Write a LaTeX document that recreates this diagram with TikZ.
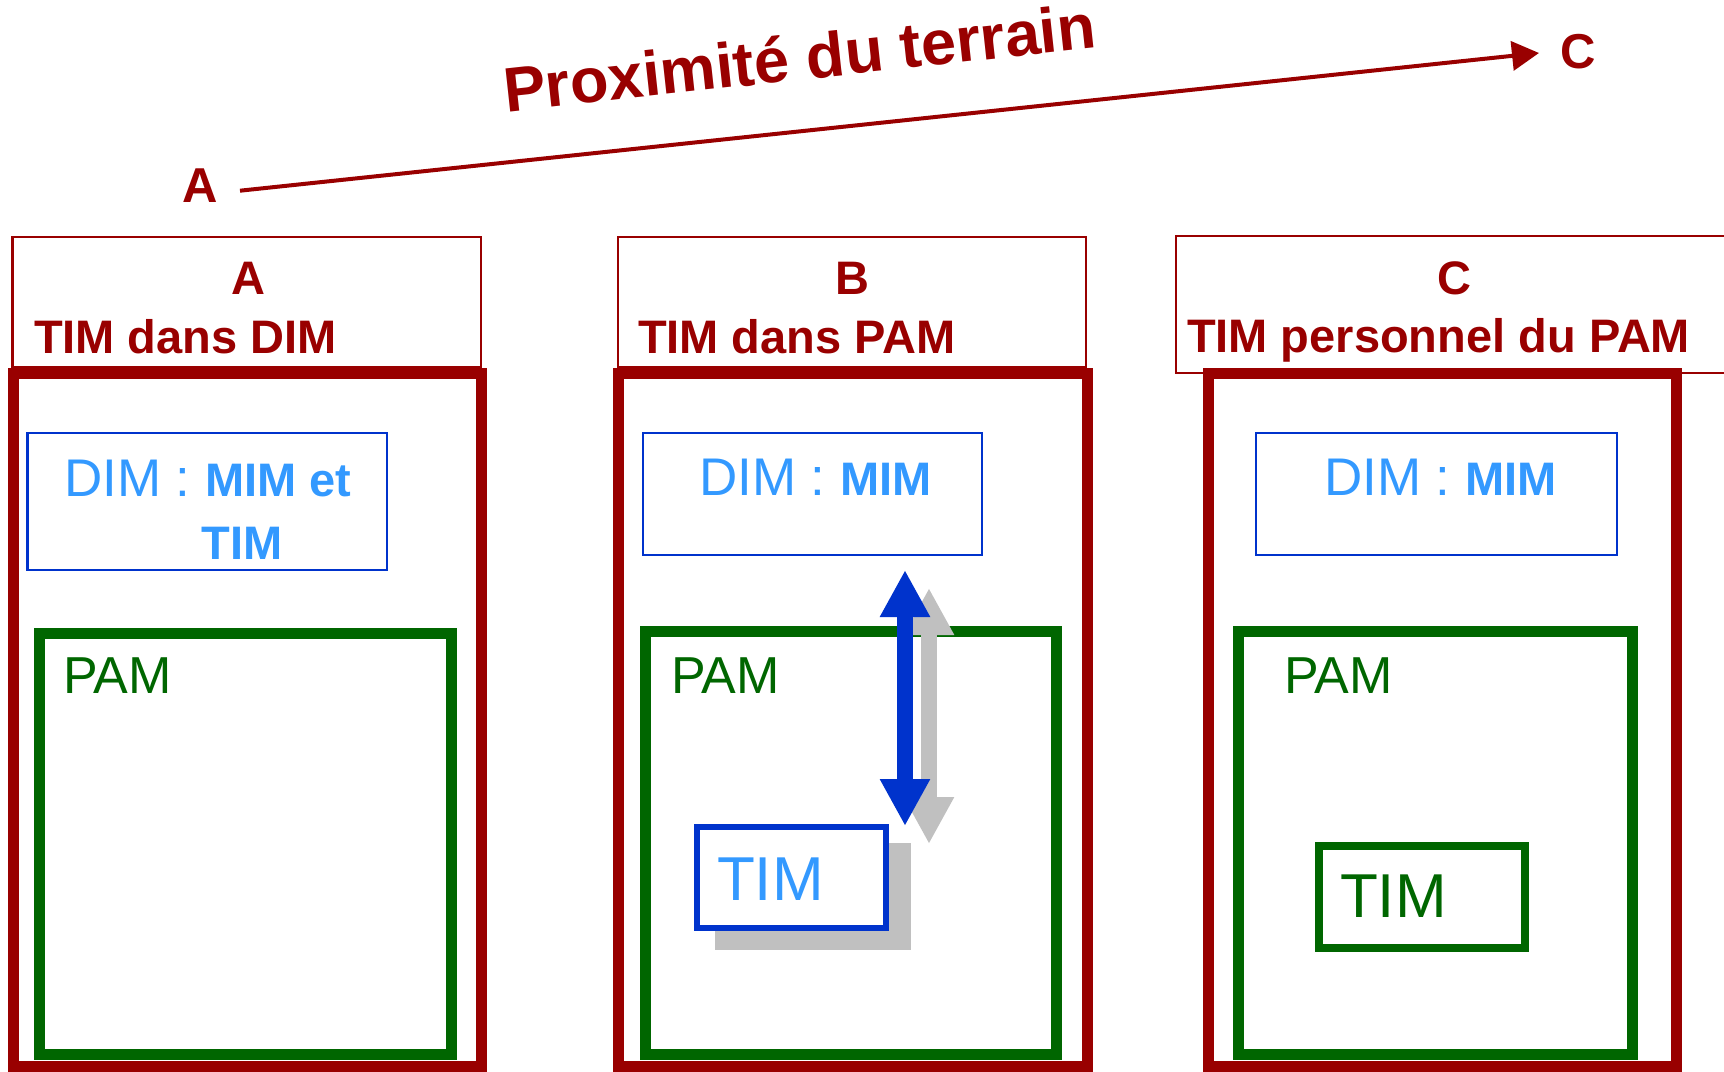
\documentclass[tikz,border=0pt]{standalone}
\usepackage{fontspec}
\setmainfont{Liberation Sans}
\usetikzlibrary{arrows.meta}
\definecolor{dred}{HTML}{990000}
\definecolor{bbord}{HTML}{0033CC}
\definecolor{btext}{HTML}{3399FF}
\definecolor{dgreen}{HTML}{006600}
\definecolor{shgray}{HTML}{C0C0C0}
\newcommand\bx[6]{\node[#2, minimum width=#5pt, minimum height=#6pt] (#1) at (#3,#4) {};}
\newcommand\fsz[1]{\fontsize{#1}{#1}\selectfont}
\begin{document}
\begin{tikzpicture}[x=1pt,y=-1pt,
  base/.style={rectangle, inner sep=0pt, outer sep=0pt},
  headbox/.style={base, draw=dred, line width=2.5pt},
  panelbox/.style={base, draw=dred, line width=11pt},
  dimbox/.style={base, draw=bbord, line width=2.5pt},
  pambox/.style={base, draw=dgreen, line width=11pt},
  timblue/.style={base, draw=bbord, fill=white, line width=5.5pt},
  timgreen/.style={base, draw=dgreen, line width=8pt},
  shadowbox/.style={base, fill=shgray},
  txt/.style={inner sep=0pt, outer sep=0pt},
  headtxt/.style={txt, text=dred, font=\fsz{47}\bfseries},
  pamtxt/.style={txt, text=dgreen, font=\fsz{52}, anchor=base west},
  bigarrow/.style={line width=16pt, {Triangle[width=47pt,length=47pt]}-{Triangle[width=47pt,length=47pt]}}
]
\useasboundingbox (0,0) rectangle (1724,1071);

% top arrow and title
\node[txt, text=dred, font=\fsz{49}\bfseries, anchor=base] (lA) at (200,202) {A};
\node[txt, text=dred, font=\fsz{49}\bfseries, anchor=base] (lC) at (1578,68) {C};
\coordinate (aS) at (240,190.7);
\coordinate (aE) at (1539,53);
\draw[dred, line width=4pt, -{Triangle[width=29pt,length=27pt]}] (aS) -- (aE);
\node[txt, text=dred, font=\fsz{63}\bfseries, anchor=base west, rotate=6.2] (title) at (506,112) {Proximité du terrain};

% header boxes
\bx{hA}{headbox}{246.8}{302}{468.4}{130}
\bx{hB}{headbox}{852}{302}{468}{130}
\bx{hC}{headbox}{1468}{304.5}{584}{137}

% header texts
\node[headtxt, anchor=base] (hAl) at (248,294) {A};
\node[headtxt, anchor=base west] (hAt) at (34,353) {TIM dans DIM};
\node[headtxt, anchor=base] (hBl) at (852,294) {B};
\node[headtxt, anchor=base west] (hBt) at (638,353) {TIM dans PAM};
\node[headtxt, anchor=base] (hCl) at (1454,294) {C};
\node[headtxt, anchor=base west] (hCt) at (1187,352) {TIM personnel du PAM};

% thick panel boxes
\bx{pA}{panelbox}{247.25}{719.75}{468.5}{692.5}
\bx{pB}{panelbox}{852.5}{719.75}{469}{692.5}
\bx{pC}{panelbox}{1442}{719.75}{468}{692.5}

% DIM boxes
\bx{dA}{dimbox}{207.25}{501.5}{359.5}{137}
\bx{dB}{dimbox}{812.5}{494}{339}{122}
\bx{dC}{dimbox}{1436.5}{494}{361}{122}
\node[txt, text=btext, anchor=base west] (dAt1) at (64,496) {\fsz{53}DIM : \fsz{47}\bfseries MIM et};
\node[txt, text=btext, anchor=base, font=\fsz{47}\bfseries] (dAt2) at (242,559) {TIM};
\node[txt, text=btext, anchor=base west] (dBt) at (699,495) {\fsz{53}DIM : \fsz{47}\bfseries MIM};
\node[txt, text=btext, anchor=base west] (dCt) at (1324,495) {\fsz{53}DIM : \fsz{47}\bfseries MIM};

% PAM boxes
\bx{gA}{pambox}{245.5}{843.5}{412}{421}
\bx{gB}{pambox}{850.75}{842.5}{411.5}{423}
\bx{gC}{pambox}{1435.25}{842.5}{394.5}{423}
\node[pamtxt] (gAt) at (63,693) {PAM};
\node[pamtxt] (gBt) at (671,693) {PAM};
\node[pamtxt] (gCt) at (1284,693) {PAM};

% panel B: arrow with shadow and TIM box with shadow
\coordinate (sT) at (929,588);
\coordinate (sB) at (929,844);
\draw[shgray, bigarrow] (sT) -- (sB);
\coordinate (arT) at (905,570);
\coordinate (arB) at (905,826);
\draw[bbord, bigarrow] (arT) -- (arB);
\bx{tBs}{shadowbox}{813}{896.5}{196}{107}
\bx{tB}{timblue}{791.5}{877.5}{189}{101}
\node[txt, text=btext, font=\fsz{62}, anchor=base west] (tBt) at (717,900) {TIM};

% panel C: TIM box
\bx{tC}{timgreen}{1421.75}{897}{205.5}{102}
\node[txt, text=dgreen, font=\fsz{62}, anchor=base west] (tCt) at (1340,917) {TIM};
\end{tikzpicture}
\end{document}
